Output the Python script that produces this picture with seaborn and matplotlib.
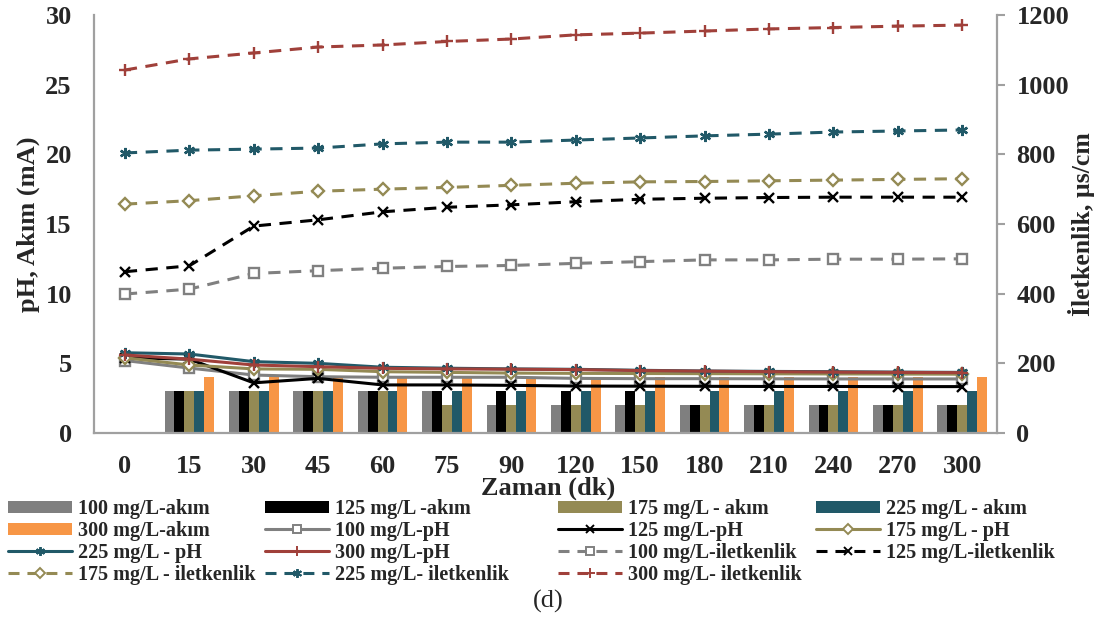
import numpy as np
import pandas as pd
import matplotlib
matplotlib.use("Agg")
import matplotlib.pyplot as plt
import seaborn as sns
from matplotlib.patches import Patch
from matplotlib.lines import Line2D

# ---- data -------------------------------------------------------------
times = ["0", "15", "30", "45", "60", "75", "90", "120", "150", "180", "210", "240", "270", "300"]

# current (mA)
akim_100 = [0, 3, 3, 3, 3, 3, 2, 2, 2, 2, 2, 2, 2, 2]
akim_125 = [0, 3, 3, 3, 3, 3, 3, 3, 3, 2, 2, 2, 2, 2]
akim_175 = [0, 3, 3, 3, 3, 2, 2, 2, 2, 2, 2, 2, 2, 2]
akim_225 = [0, 3, 3, 3, 3, 3, 3, 3, 3, 3, 3, 3, 3, 3]
akim_300 = [0, 4, 4, 4, 4, 4, 4, 4, 4, 4, 4, 4, 4, 4]

# pH
ph_100 = [5.2, 4.66, 4.16, 4.04, 4.0, 4.0, 4.0, 3.92, 3.9, 3.9, 3.89, 3.88, 3.88, 3.88]
ph_125 = [5.4, 5.3, 3.6, 3.92, 3.45, 3.45, 3.42, 3.37, 3.36, 3.35, 3.34, 3.34, 3.33, 3.33]
ph_175 = [5.4, 4.88, 4.6, 4.57, 4.4, 4.35, 4.3, 4.28, 4.27, 4.26, 4.25, 4.24, 4.23, 4.22]
ph_225 = [5.76, 5.67, 5.12, 5.0, 4.72, 4.65, 4.6, 4.57, 4.5, 4.45, 4.42, 4.4, 4.37, 4.35]
ph_300 = [5.6, 5.3, 4.88, 4.76, 4.64, 4.6, 4.58, 4.55, 4.48, 4.44, 4.4, 4.37, 4.35, 4.33]

# conductivity (µs/cm)
ilet_100 = [399, 413, 458, 466, 473, 478, 481, 487, 492, 497, 497, 499, 499, 500]
ilet_125 = [463, 480, 594, 612, 635, 648, 655, 664, 671, 674, 676, 677, 677, 677]
ilet_175 = [657, 667, 681, 694, 700, 705, 711, 717, 721, 722, 724, 726, 728, 730]
ilet_225 = [804, 812, 815, 818, 830, 835, 835, 841, 847, 853, 858, 864, 867, 870]
ilet_300 = [1042, 1074, 1091, 1108, 1114, 1124, 1131, 1143, 1148, 1154, 1160, 1164, 1168, 1171]

bar_labels = ["100 mg/L-akım", "125 mg/L -akım", "175 mg/L - akım", "225 mg/L - akım", "300 mg/L-akım"]
ph_labels = ["100 mg/L-pH", "125 mg/L-pH", "175 mg/L - pH", "225 mg/L - pH", "300 mg/L-pH"]
ilet_labels = ["100 mg/L-iletkenlik", "125 mg/L-iletkenlik", "175 mg/L - iletkenlik",
               "225 mg/L- iletkenlik", "300 mg/L- iletkenlik"]

# ---- style ------------------------------------------------------------
sns.set_theme(style="white")
plt.rcParams["font.family"] = ["Liberation Serif", "DejaVu Serif"]
plt.rcParams["font.weight"] = "bold"

colors = ["#7F7F7F", "#000000", "#948A54", "#215968", "#F79646"]
line_colors = ["#808080", "#000000", "#948A54", "#215968", "#A0403A"]
markers = ["s", "x", "D", (6, 2, 0), "+"]
msizes = [7, 7, 6, 8, 9]
mfaces = ["white", None, "white", None, None]
FS = 19

fig = plt.figure(figsize=(10.96, 6.22), dpi=100)
ax = fig.add_axes([94 / 1096, 1 - 433 / 622, (997 - 94) / 1096, (433 - 15) / 622])

# ---- bars -------------------------------------------------------------
bar_series = [akim_100, akim_125, akim_175, akim_225, akim_300]
df_bar = pd.DataFrame({
    "Zaman": np.tile(times, len(bar_series)),
    "Akım": np.concatenate(bar_series),
    "Seri": np.repeat(bar_labels, len(times)),
})
sns.barplot(data=df_bar, x="Zaman", y="Akım", hue="Seri", order=times,
            hue_order=bar_labels, palette=colors, width=0.77, ax=ax,
            saturation=1, edgecolor="none", linewidth=0, errorbar=None, legend=False)

pos = np.arange(len(times))

# ---- pH lines ---------------------------------------------------------
for vals, c, m, ms, mf in zip([ph_100, ph_125, ph_175, ph_225, ph_300],
                              line_colors, markers, msizes, mfaces):
    kw = dict(markerfacecolor=mf) if mf else {}
    sns.lineplot(x=pos, y=vals, ax=ax, color=c, linewidth=2.2, marker=m,
                 markersize=ms, markeredgecolor=c, markeredgewidth=1.7, **kw)

ax.set_xlim(-0.48, 13.54)
ax.set_ylim(0, 30)
ax.set_yticks(np.arange(0, 31, 5))
ax.set_xticks(pos)
ax.set_xticklabels(times)
ax.tick_params(axis="x", length=0, pad=16, labelsize=FS)
ax.tick_params(axis="y", length=0, pad=16, labelsize=FS)
for lab in ax.get_xticklabels() + ax.get_yticklabels():
    lab.set_fontweight("bold")
ax.set_xlabel("")
ax.set_ylabel("pH, Akım (mA)", fontsize=FS, fontweight="bold", labelpad=4)

# ---- conductivity lines (right axis) -----------------------------------
ax2 = ax.twinx()
for vals, c, m, ms, mf in zip([ilet_100, ilet_125, ilet_175, ilet_225, ilet_300],
                              line_colors, markers, msizes, mfaces):
    kw = dict(markerfacecolor=mf) if mf else {}
    sns.lineplot(x=pos, y=vals, ax=ax2, color=c, linewidth=2.2, marker=m,
                 markersize=ms, markeredgecolor=c, markeredgewidth=1.7,
                 dashes=False, **kw)
for ln in ax2.get_lines():
    ln.set_dashes((4.0, 2.8))
ax2.set_ylim(0, 1200)
ax2.set_yticks(np.arange(0, 1201, 200))
ax2.tick_params(axis="y", length=6, width=1.5, color="#A0A0A0", pad=8, labelsize=FS, direction="out")
for lab in ax2.get_yticklabels():
    lab.set_fontweight("bold")
ax2.set_ylabel("İletkenlik, µs/cm", fontsize=18.5, fontweight="bold", labelpad=-1)
ax2.grid(False)
ax.grid(False)

for a in (ax, ax2):
    for side in ("left", "right", "bottom"):
        a.spines[side].set_color("#A0A0A0")
        a.spines[side].set_linewidth(1.6)
    a.spines["top"].set_visible(False)
ax.spines["right"].set_visible(False)
ax2.spines["left"].set_visible(False)
ax2.spines["bottom"].set_visible(False)

# ---- labels -----------------------------------------------------------
fig.text(548 / 1096, 1 - 488 / 622, "Zaman (dk)", ha="center", va="center",
         fontsize=FS, fontweight="bold")
fig.text(548 / 1096, 1 - 601 / 622, "(d)", ha="center", va="center",
         fontsize=FS, fontweight="normal")

# ---- legend: four columns laid out row by row --------------------------
handles = [Patch(facecolor=c, edgecolor="none") for c in colors]
handles += [Line2D([], [], color=c, lw=2.2, marker=m, markersize=ms * 0.8,
                   markeredgecolor=c, markerfacecolor=(mf or c), markeredgewidth=1.4)
            for c, m, ms, mf in zip(line_colors, markers, msizes, mfaces)]
handles += [Line2D([], [], color=c, lw=2.2, dashes=(3.6, 2.6), marker=m, markersize=ms * 0.8,
                   markeredgecolor=c, markerfacecolor=(mf or c), markeredgewidth=1.4)
            for c, m, ms, mf in zip(line_colors, markers, msizes, mfaces)]
labels = bar_labels + ph_labels + ilet_labels
ncol = 4
col_x = [8, 265, 558, 816]
for c in range(ncol):
    idx = [r * ncol + c for r in range(4) if r * ncol + c < len(labels)]
    leg = fig.legend([handles[i] for i in idx], [labels[i] for i in idx],
                     loc="upper left", bbox_to_anchor=(col_x[c] / 1096, 1 - 499 / 622),
                     ncol=1, frameon=False, handlelength=3.2, handleheight=0.6,
                     handletextpad=0.28, labelspacing=0.1, borderpad=0,
                     borderaxespad=0, prop={"weight": "bold", "size": 14.5})

fig.savefig("out.png", dpi=100)
